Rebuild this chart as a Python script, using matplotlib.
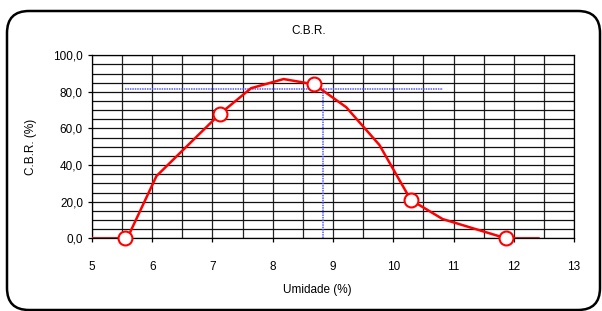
import matplotlib
matplotlib.use("Agg")
import matplotlib.pyplot as plt
from matplotlib.patches import FancyBboxPatch
from matplotlib.transforms import IdentityTransform

# curve through the CBR results
curve_x = [5.0, 5.54, 5.6, 6.07, 7.12, 7.64, 8.18, 8.69, 9.22, 9.77, 10.29, 10.82, 11.87, 12.41]
curve_y = [0.0, 0.0, 1.0, 34.0, 67.9, 82.0, 87.0, 84.1, 71.6, 51.0, 21.0, 10.5, 0.0, 0.0]

# measured points
points_x = [5.54, 7.12, 8.69, 10.29, 11.87]
points_y = [0.0, 67.9, 84.1, 21.0, 0.0]

# reading lines (blue dotted)
read_cbr = 81.6
read_x_start = 5.55
read_x_end = 10.82
read_umidade = 8.84

x_ticks = [5, 6, 7, 8, 9, 10, 11, 12, 13]
y_ticks = [0, 20, 40, 60, 80, 100]
y_labels = ["0,0", "20,0", "40,0", "60,0", "80,0", "100,0"]


def main():
    """Draws the C.B.R. chart"""
    plt.rcParams['font.family'] = ['Liberation Sans', 'DejaVu Sans']
    fig = plt.figure(figsize=(6.02, 3.11), dpi=100)
    ax = fig.add_axes([0.1528, 0.2338, 0.8007, 0.5885])

    # grid
    for gx in [5 + 0.5 * i for i in range(17)]:
        ax.axvline(gx, color="#222222", lw=0.9, zorder=1)
    for gy in range(0, 101, 5):
        ax.axhline(gy, color="#111111", lw=0.9, zorder=1)

    ax.plot([read_x_start, read_x_end], [read_cbr, read_cbr],
            color="#5a5aff", lw=1.1, ls=(0, (1, 0.6)), zorder=2)
    ax.plot([read_umidade, read_umidade], [0, read_cbr],
            color="#5a5aff", lw=1.1, ls=(0, (1, 0.6)), zorder=2)

    ax.plot(curve_x, curve_y, color="#ff0000", lw=1.8, zorder=3)
    ax.plot(points_x, points_y, ls="none", marker="o", ms=10,
            mfc="white", mec="#ff0000", mew=1.5, zorder=4, clip_on=False)

    ax.set_xlim(5, 13)
    ax.set_ylim(0, 100)
    ax.set_xticks(x_ticks)
    ax.set_yticks(y_ticks)
    ax.set_yticklabels(y_labels)
    ax.tick_params(direction="out", length=3, width=0.9, labelsize=8.5,
                   color="black")
    ax.tick_params(axis="x", pad=13)
    for s in ax.spines.values():
        s.set_color("black")
        s.set_linewidth(0.9)

    ax.set_ylabel("C.B.R. (%)", fontsize=8.5, labelpad=12)
    fig.text(317 / 602, 1 - 290 / 311, "Umidade (%)", ha="center",
             va="center", fontsize=8.5)
    fig.text(309 / 602, 1 - 31 / 311, "C.B.R.", ha="center",
             va="center", fontsize=8.5)

    # rounded frame, bottom edge right at the image border
    border = FancyBboxPatch((27, 21), 553, 259,
                            boxstyle="round,pad=20,rounding_size=22",
                            transform=IdentityTransform(), fill=False,
                            ec="black", lw=1.8)
    fig.patches.append(border)

    fig.savefig("out.png", dpi=100)


if __name__ == "__main__":
    main()
